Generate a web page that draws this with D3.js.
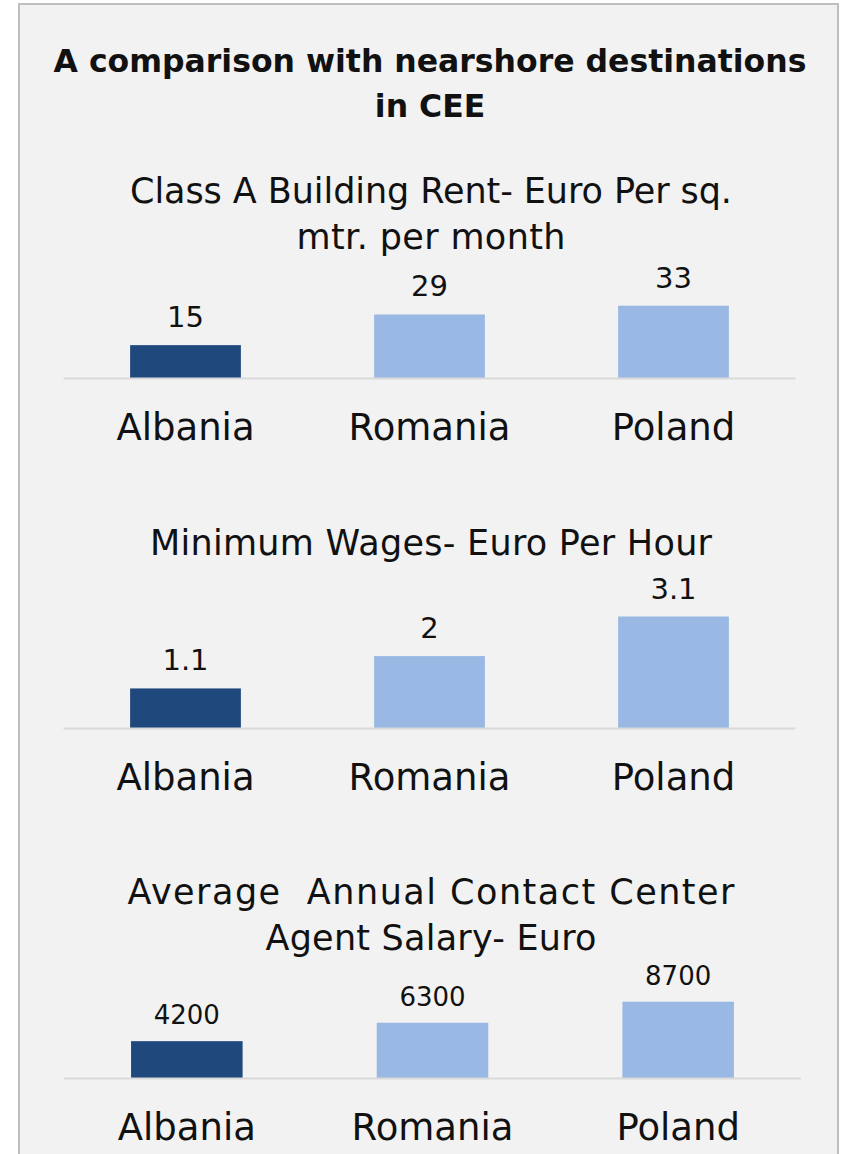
<!DOCTYPE html>
<html>
<head>
<meta charset="utf-8">
<script src="https://cdn.jsdelivr.net/npm/d3@7"></script>
<style>
  html, body { margin: 0; padding: 0; background: #ffffff; }
  svg { display: block; }
  text { font-family: "DejaVu Sans", sans-serif; fill: #111; white-space: pre; }
</style>
</head>
<body>
<div id="chart"></div>
<script>
// ---- Data ----
const countries = ["Albania", "Romania", "Poland"];
const rentValues = [15, 29, 33];
const wageValues = [1.1, 2, 3.1];
const salaryValues = [4200, 6300, 8700];
const mainTitle = ["A comparison with nearshore destinations", "in CEE"];
const rentTitle = ["Class A Building Rent- Euro Per sq.", "mtr. per month"];
const wageTitle = ["Minimum Wages- Euro Per Hour"];
const salaryTitle = ["Average  Annual Contact Center", "Agent Salary- Euro"];
const barColors = ["#1f497d", "#99b9e4", "#99b9e4"];

// ---- Layout ----
const W = 841, H = 1154, CX = 430;
const svg = d3.select("#chart").append("svg").attr("width", W).attr("height", H);

svg.append("rect").attr("x", 0).attr("y", 0).attr("width", W).attr("height", H).attr("fill", "#ffffff");
svg.append("rect")
  .attr("x", 19).attr("y", 4).attr("width", 819).attr("height", H + 10)
  .attr("fill", "#f2f2f2").attr("stroke", "#bfbfbf").attr("stroke-width", 2);

svg.append("g").selectAll("text").data(mainTitle).join("text")
  .attr("x", CX).attr("y", (d, i) => 72 + i * 45)
  .attr("text-anchor", "middle")
  .style("font-size", "31.5px").style("font-weight", "bold")
  .text(d => d);

const charts = [
  { title: rentTitle, widths: [602, 269], values: rentValues, titleY: 203, axisY: 378, maxH: 72.3, range: [63.5, 795.5], labelSize: 29, labelGap: 18 },
  { title: wageTitle, widths: [562], values: wageValues, titleY: 555, axisY: 728, maxH: 111.5, range: [63.5, 795.5], labelSize: 29, labelGap: 18 },
  { title: salaryTitle, widths: [607, 331], values: salaryValues, titleY: 904, axisY: 1078, maxH: 76.3, range: [64, 801], labelSize: 26, labelGap: 17 }
];

charts.forEach(c => {
  const g = svg.append("g");
  g.selectAll("text.ttl").data(c.title).join("text").attr("class", "ttl")
    .attr("x", CX + 1).attr("y", (d, i) => c.titleY + i * 46)
    .attr("text-anchor", "middle")
    .attr("textLength", (d, i) => c.widths[i])
    .attr("lengthAdjust", "spacing")
    .style("font-size", "35px")
    .text(d => d);

  const x = d3.scaleBand().domain(countries).range(c.range).paddingInner(0.546).paddingOuter(0.273);
  const y = d3.scaleLinear().domain([0, d3.max(c.values)]).range([c.axisY, c.axisY - c.maxH]);

  g.selectAll("rect.bar").data(c.values).join("rect").attr("class", "bar")
    .attr("x", (d, i) => x(countries[i]))
    .attr("width", x.bandwidth())
    .attr("y", d => y(d))
    .attr("height", d => y(0) - y(d))
    .attr("fill", (d, i) => barColors[i]);

  g.selectAll("text.val").data(c.values).join("text").attr("class", "val")
    .attr("x", (d, i) => x(countries[i]) + x.bandwidth() / 2)
    .attr("y", d => y(d) - c.labelGap)
    .attr("text-anchor", "middle")
    .style("font-size", c.labelSize + "px")
    .text(d => String(d));

  const axis = d3.axisBottom(x).tickSize(0).tickPadding(0);
  const ax = g.append("g").attr("transform", `translate(0,${c.axisY})`).call(axis);
  ax.select(".domain").attr("stroke", "#d9d9d9").attr("stroke-width", 2).attr("d", `M${c.range[0]},0.5H${c.range[1]}`);
  ax.selectAll(".tick text")
    .attr("y", 62).attr("dy", null)
    .style("font-size", "37px").style("font-family", "'DejaVu Sans', sans-serif")
    .attr("fill", "#111");
});
</script>
</body>
</html>
